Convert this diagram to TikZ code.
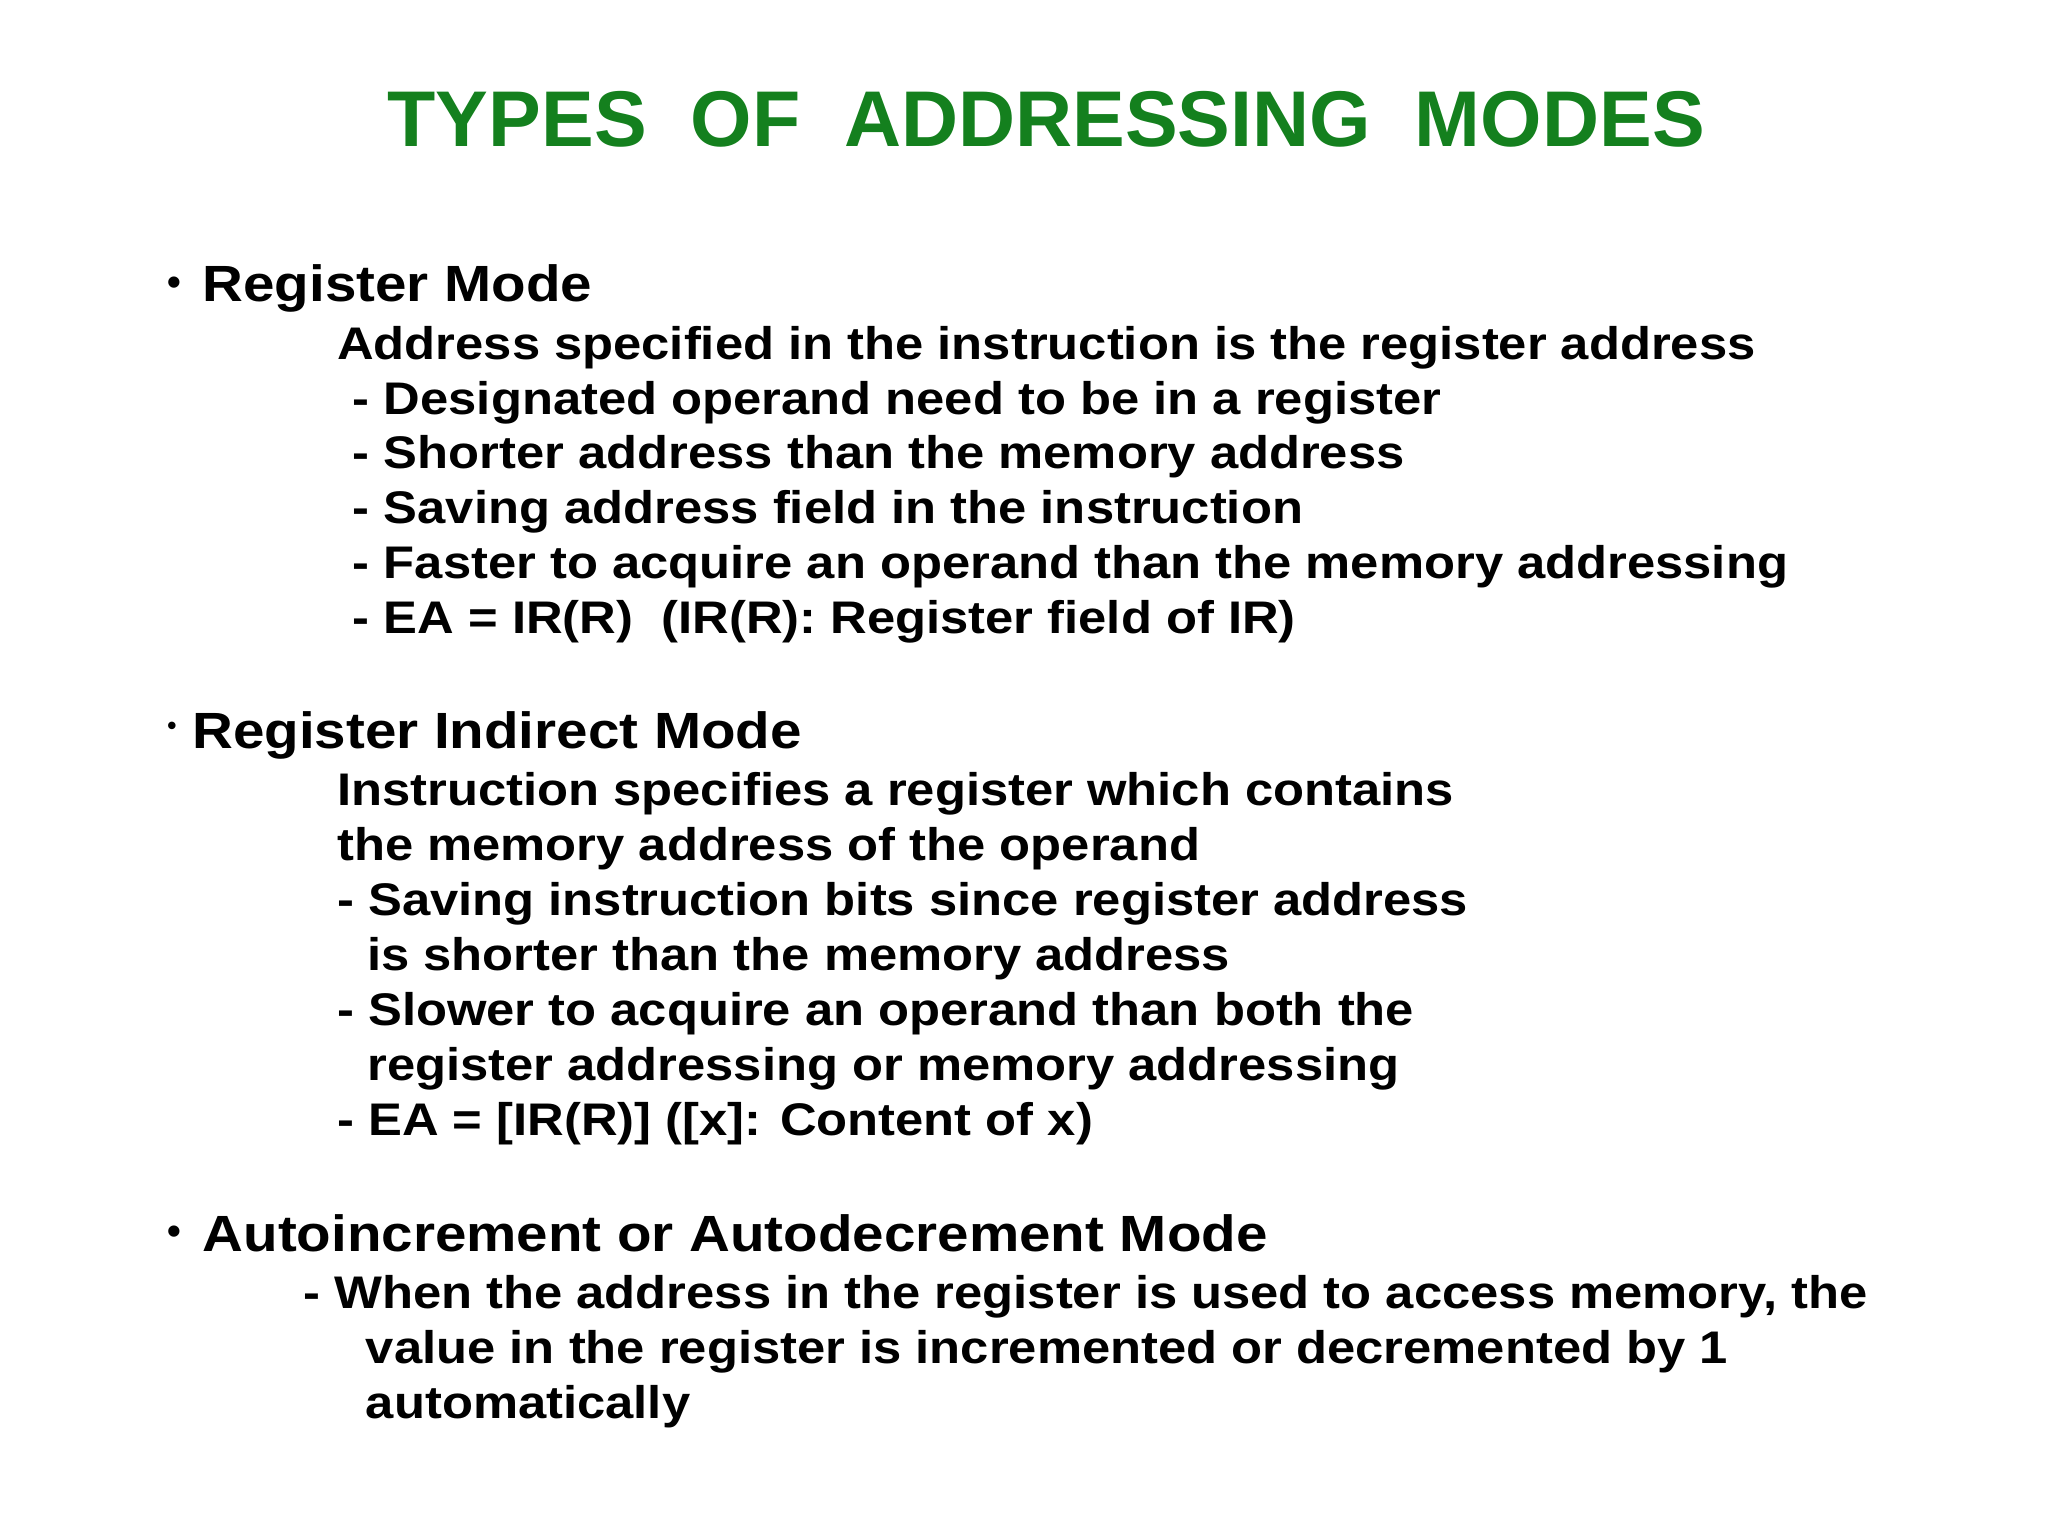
\documentclass[tikz,border=0pt]{standalone}
\usepackage{fontspec}
\setmainfont{Liberation Sans}
\newfontfamily\widefont[FakeStretch=1.11]{Liberation Sans}
\definecolor{titlegreen}{RGB}{20,128,30}
\begin{document}
\begin{tikzpicture}[x=1pt,y=-1pt,
  tx/.style={anchor=base west,inner sep=0pt,font=\widefont\bfseries\fontsize{35}{42}\selectfont},
  hd/.style={anchor=base west,inner sep=0pt,font=\widefont\bfseries\fontsize{39}{46}\selectfont},
  bl/.style={anchor=base west,inner sep=0pt,font=\bfseries\fontsize{30}{36}\selectfont}]
\useasboundingbox (0,0) rectangle (1568,1176);
\node[anchor=base,inner sep=0pt,text=titlegreen,font=\bfseries\fontsize{60.5}{70}\selectfont] (title) at (801,112) {TYPES\ \ OF\ \ ADDRESSING\ \ MODES};
\node[bl] (b1) at (128,226) {•};
\node[hd] (h1) at (155,231) {Register Mode};
\node[tx] (l11) at (258,275) {Address specified in the instruction is the register address};
\node[tx] (l12) at (270,317) {- Designated operand need to be in a register};
\node[tx] (l13) at (270,359) {- Shorter address than the memory address};
\node[tx] (l14) at (270,401) {- Saving address field in the instruction};
\node[tx] (l15) at (270,443) {- Faster to acquire an operand than the memory addressing};
\node[tx] (l16) at (270,485) {- EA = IR(R)\ \ (IR(R): Register field of IR)};
\node[anchor=base west,inner sep=0pt,font=\bfseries\fontsize{20}{24}\selectfont] (b2) at (128,562) {•};
\node[hd] (h2) at (147,573) {Register Indirect Mode};
\node[tx] (l21) at (258,617) {Instruction specifies a register which contains};
\node[tx] (l22) at (258,659) {the memory address of the operand};
\node[tx] (l23) at (258,701) {- Saving instruction bits since register address};
\node[tx] (l24) at (281,743) {is shorter than the memory address};
\node[tx] (l25) at (258,785) {- Slower to acquire an operand than both the};
\node[tx] (l26) at (281,827) {register addressing or memory addressing};
\node[tx] (l27) at (258,869) {- EA = [IR(R)] ([x]: Content of x)};
\node[bl] (b3) at (128,953) {•};
\node[hd] (h3) at (155,958) {Autoincrement or Autodecrement Mode};
\node[tx] (l31) at (232,1002) {- When the address in the register is used to access memory, the};
\node[tx] (l32) at (280,1044) {value in the register is incremented or decremented by 1};
\node[tx] (l33) at (280,1086) {automatically};
\end{tikzpicture}
\end{document}
